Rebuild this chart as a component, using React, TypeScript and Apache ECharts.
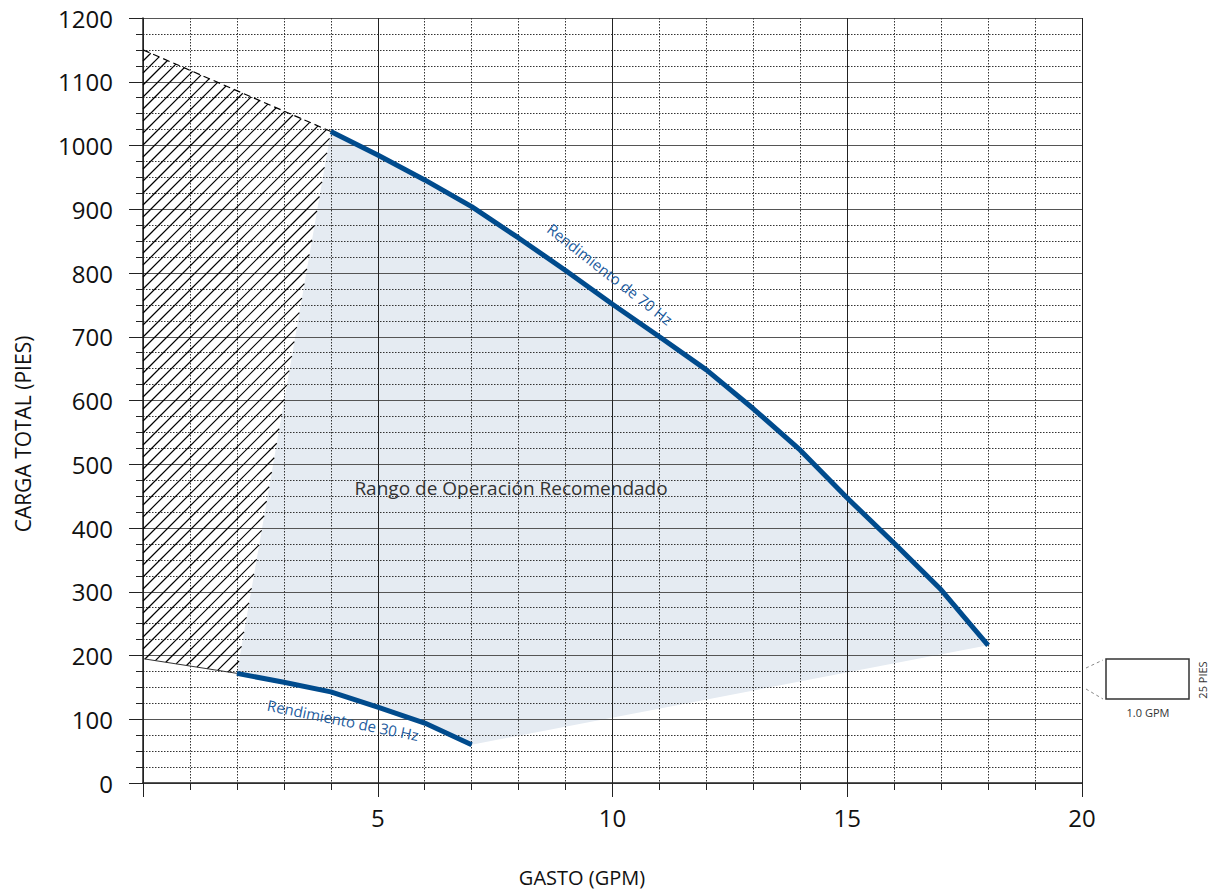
import React, { useEffect, useRef } from "react";
import * as echarts from "echarts";

// Performance curves (GPM, feet)
const curve70Hz: number[][] = [
  [4, 1022], [5, 985], [6, 946], [7, 904], [8, 855], [9, 804], [10, 751],
  [11, 700], [12, 648], [13, 587], [14, 522], [15, 447], [16, 376], [17, 303], [18, 216],
];
const curve30Hz: number[][] = [
  [2, 172], [3, 158], [4, 143], [5, 119], [6, 94], [7, 60],
];
// Hatched (not recommended) zone boundary
const hatchZone: number[][] = [
  [0, 1150], [4, 1022], [2, 172], [0, 195],
];

const xMin = 0, xMax = 20, xInterval = 5;
const yMin = 0, yMax = 1200, yInterval = 100;

const LABEL_70 = "Rendimiento de 70 Hz";
const LABEL_30 = "Rendimiento de 30 Hz";
const RANGE_LABEL = "Rango de Operación Recomendado";
const X_TITLE = "GASTO (GPM)";
const Y_TITLE = "CARGA TOTAL (PIES)";

const FONT = "'Open Sans', 'Noto Sans', sans-serif";
const LINE_BLUE = "#004b8d";
const TEXT_BLUE = "#1d5c9e";

export default function App() {
  const ref = useRef<HTMLDivElement>(null);

  useEffect(() => {
    if (!ref.current) return;
    const chart = echarts.init(ref.current, undefined, { renderer: "svg" });

    const dotted = { color: "#333", width: 1, type: [1.5, 1.5] as any };

    const option: any = {
      animation: false,
      backgroundColor: "#fff",
      grid: { left: 143, right: 127, top: 18, bottom: 109, containLabel: false },
      xAxis: {
        type: "value",
        min: xMin,
        max: xMax,
        interval: xInterval,
        axisLine: { show: true, onZero: false, lineStyle: { color: "#222", width: 1.5 } },
        axisTick: { show: true, length: 14, lineStyle: { color: "#222", width: 1 } },
        minorTick: { show: true, splitNumber: 5, length: 7, lineStyle: { color: "#222", width: 1 } },
        axisLabel: {
          showMinLabel: false,
          margin: 22,
          fontSize: 24,
          color: "#111",
          fontFamily: FONT,
          formatter: (v: number) => String(v),
        },
        splitLine: { show: true, lineStyle: { color: "#222", width: 1 } },
        minorSplitLine: { show: true, lineStyle: dotted },
      },
      yAxis: {
        type: "value",
        min: yMin,
        max: yMax,
        interval: yInterval,
        axisLine: { show: true, onZero: false, lineStyle: { color: "#222", width: 1.5 } },
        axisTick: { show: true, length: 14, lineStyle: { color: "#222", width: 1 } },
        minorTick: { show: true, splitNumber: 4, length: 7, lineStyle: { color: "#222", width: 1 } },
        axisLabel: {
          margin: 30,
          fontSize: 24,
          color: "#111",
          fontFamily: FONT,
          formatter: (v: number) => String(v),
        },
        splitLine: { show: true, lineStyle: { color: "#555", width: 1 } },
        minorSplitLine: { show: true, lineStyle: dotted },
      },
      series: [
        {
          type: "custom",
          name: "rango",
          silent: true,
          z: -1,
          clip: false,
          data: [[0, 0]],
          renderItem: (_params: any, api: any) => {
            const pts = [...curve70Hz, ...curve30Hz.slice().reverse()].map((p) => api.coord(p));
            return { type: "polygon", shape: { points: pts }, style: { fill: "#e5ebf2" } };
          },
        },
        {
          type: "custom",
          name: "hatch",
          silent: true,
          z: 1,
          clip: false,
          data: [[0, 0]],
          renderItem: (_params: any, api: any) => {
            const P = hatchZone.map((p) => api.coord(p));
            const sums = P.map((p: number[]) => p[0] + p[1]);
            const lo = Math.min(...sums);
            const hi = Math.max(...sums);
            const step = 12;
            const children: any[] = [];
            for (let c = Math.ceil(lo / step) * step; c <= hi; c += step) {
              const hits: number[][] = [];
              for (let i = 0; i < P.length; i++) {
                const A = P[i];
                const B = P[(i + 1) % P.length];
                const fa = A[0] + A[1] - c;
                const fb = B[0] + B[1] - c;
                if ((fa <= 0 && fb > 0) || (fa > 0 && fb <= 0)) {
                  const t = fa / (fa - fb);
                  hits.push([A[0] + t * (B[0] - A[0]), A[1] + t * (B[1] - A[1])]);
                }
              }
              if (hits.length >= 2) {
                children.push({
                  type: "line",
                  shape: { x1: hits[0][0], y1: hits[0][1], x2: hits[1][0], y2: hits[1][1] },
                  style: { stroke: "#000", lineWidth: 1.2 },
                });
              }
            }
            children.push({
              type: "line",
              shape: { x1: P[0][0], y1: P[0][1], x2: P[1][0], y2: P[1][1] },
              style: { stroke: "#000", lineWidth: 1.2, lineDash: [7, 4] },
            });
            children.push({
              type: "line",
              shape: { x1: P[3][0], y1: P[3][1], x2: P[2][0], y2: P[2][1] },
              style: { stroke: "#333", lineWidth: 1 },
            });
            return { type: "group", children };
          },
        },
        {
          type: "line",
          name: "70 Hz",
          data: curve70Hz,
          showSymbol: false,
          z: 3,
          lineStyle: { color: LINE_BLUE, width: 5 },
        },
        {
          type: "line",
          name: "30 Hz",
          data: curve30Hz,
          showSymbol: false,
          z: 3,
          lineStyle: { color: LINE_BLUE, width: 5 },
        },
      ],
      graphic: [
        {
          type: "text",
          x: 23,
          y: 434,
          rotation: Math.PI / 2,
          style: {
            text: Y_TITLE, fill: "#111", font: `21px ${FONT}`,
            textAlign: "center", textVerticalAlign: "middle",
          },
        },
        {
          type: "text",
          x: 582,
          y: 877,
          style: {
            text: X_TITLE, fill: "#111", font: `20px ${FONT}`,
            textAlign: "center", textVerticalAlign: "middle",
          },
        },
        {
          type: "text",
          x: 511,
          y: 488,
          z: 10,
          style: {
            text: RANGE_LABEL, fill: "#333", font: `19px ${FONT}`,
            textAlign: "center", textVerticalAlign: "middle",
          },
        },
        {
          type: "text",
          x: 610,
          y: 274,
          z: 10,
          rotation: (-38 * Math.PI) / 180,
          style: {
            text: LABEL_70, fill: TEXT_BLUE, font: `15px ${FONT}`,
            textAlign: "center", textVerticalAlign: "middle",
          },
        },
        {
          type: "text",
          x: 343,
          y: 720,
          z: 10,
          rotation: (-11.5 * Math.PI) / 180,
          style: {
            text: LABEL_30, fill: TEXT_BLUE, font: `15px ${FONT}`,
            textAlign: "center", textVerticalAlign: "middle",
          },
        },
        // scale legend box
        {
          type: "rect",
          shape: { x: 1106, y: 659, width: 83, height: 40 },
          style: { fill: "none", stroke: "#333", lineWidth: 1.5 },
        },
        {
          type: "line",
          shape: { x1: 1086, y1: 668, x2: 1103, y2: 660 },
          style: { stroke: "#888", lineWidth: 1, lineDash: [3, 3] },
        },
        {
          type: "line",
          shape: { x1: 1086, y1: 689, x2: 1103, y2: 699 },
          style: { stroke: "#888", lineWidth: 1, lineDash: [3, 3] },
        },
        {
          type: "text",
          x: 1148,
          y: 712,
          style: {
            text: "1.0 GPM", fill: "#333", font: `11px ${FONT}`,
            textAlign: "center", textVerticalAlign: "middle",
          },
        },
        {
          type: "text",
          x: 1202,
          y: 680,
          rotation: Math.PI / 2,
          style: {
            text: "25 PIES", fill: "#333", font: `11px ${FONT}`,
            textAlign: "center", textVerticalAlign: "middle",
          },
        },
      ],
    };

    chart.setOption(option);
    return () => chart.dispose();
  }, []);

  return (
    <div
      ref={ref}
      style={{ position: "fixed", left: 0, top: 0, width: 1209, height: 892 }}
    />
  );
}
